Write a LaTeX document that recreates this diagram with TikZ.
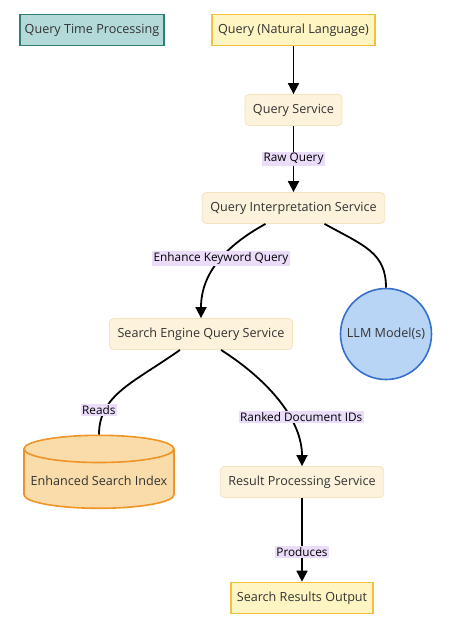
\documentclass[tikz,border=0pt]{standalone}
\usepackage{fontspec}
\setmainfont{Open Sans}
\usepackage{xcolor}
\usetikzlibrary{shapes.geometric, arrows.meta, positioning}
\definecolor{ink}{RGB}{51,51,51}
\definecolor{tealfill}{RGB}{179,218,216}
\definecolor{tealdraw}{RGB}{47,127,115}
\definecolor{yelfill}{RGB}{255,245,194}
\definecolor{yeldraw}{RGB}{242,194,60}
\definecolor{svcfill}{RGB}{253,242,220}
\definecolor{svcdraw}{RGB}{243,227,191}
\definecolor{llmfill}{RGB}{184,213,246}
\definecolor{llmdraw}{RGB}{54,112,204}
\definecolor{dbfill}{RGB}{249,220,170}
\definecolor{dbdraw}{RGB}{239,148,38}
\definecolor{lblfill}{RGB}{235,220,250}
\begin{document}
\begin{tikzpicture}[x=1pt, y=-1pt, font=\fontsize{12.6}{15}\selectfont, text=ink,
  tag/.style={rectangle, draw=tealdraw, fill=tealfill, line width=1.6pt,
            minimum height=31pt, minimum width=144pt},
  io/.style={rectangle, draw=yeldraw, fill=yelfill, line width=1.6pt,
            minimum height=31pt, inner xsep=6pt},
  svc/.style={rectangle, rounded corners=4pt, draw=svcdraw, fill=svcfill, line width=0.8pt,
            minimum height=31pt, inner xsep=8pt},
  llm/.style={circle, draw=llmdraw, fill=llmfill, line width=1.6pt, minimum size=91pt, inner sep=0pt},
  db/.style={cylinder, shape border rotate=90, aspect=0.19, draw=dbdraw, fill=dbfill,
            line width=1.6pt, minimum width=150pt, minimum height=73pt},
  lbl/.style={fill=lblfill, inner sep=1.5pt, font=\fontsize{11.8}{13}\selectfont},
  a/.style={-{Triangle[length=11pt, width=11pt]}, line width=1.8pt, black},
  l/.style={line width=1.8pt, black}]
  \useasboundingbox (0,0) rectangle (469,639);
  \node[tag] (qtp) at (92,30) {Query Time Processing};
  \node[io] (qnl) at (293.5,30) {Query (Natural Language)};
  \node[svc] (qs) at (293.5,110) {Query Service};
  \node[svc] (qis) at (293.5,208) {Query Interpretation Service};
  \node[llm] (llm) at (386,334) {LLM Model(s)};
  \node[svc] (seqs) at (201,334) {Search Engine Query Service};
  \node[db] (idx) at (99,481) {Enhanced Search Index};
  \node[svc] (rps) at (302,482) {Result Processing Service};
  \node[io] (sro) at (302,598) {Search Results Output};
  % connectors
  \draw[a] (qnl) -- (qs);
  \draw[a] (qs) -- node[lbl] {Raw Query} (qis);
  \draw[a] ([xshift=-28pt]qis.south) .. controls +(-40,22) and +(0,-45) .. node[lbl, pos=0.46] {Enhance Keyword Query} (seqs.north);
  \draw[l] ([xshift=31pt]qis.south) .. controls +(40,22) and +(0,-35) .. (llm.north);
  \draw[l] ([xshift=-21pt]seqs.south) .. controls +(-45,32) and +(0,-40) .. node[lbl, pos=0.76, xshift=-6pt] {Reads} (idx.top);
  \draw[a] ([xshift=20pt]seqs.south) .. controls +(50,32) and +(0,-45) .. node[lbl, pos=0.62, xshift=12pt] {Ranked Document IDs} (rps.north);
  \draw[a] (rps) -- node[lbl, pos=0.65] {Produces} (sro);
\end{tikzpicture}
\end{document}
